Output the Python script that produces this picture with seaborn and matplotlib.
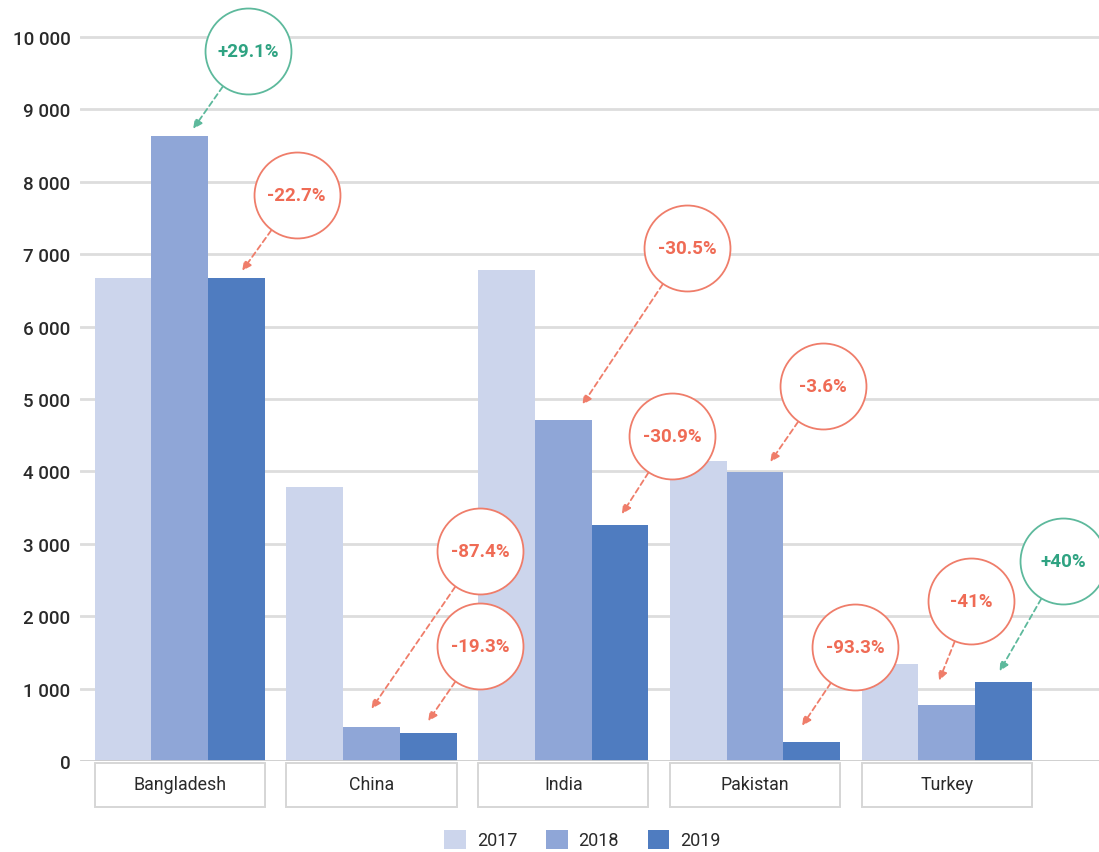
import matplotlib
matplotlib.use('Agg')
import matplotlib.pyplot as plt
import matplotlib.transforms as mtransforms
from matplotlib.patches import Rectangle, Patch
import seaborn as sns
import pandas as pd

# data
countries = ['Bangladesh', 'China', 'India', 'Pakistan', 'Turkey']
years = ['2017', '2018', '2019']
values2017 = [6670, 3780, 6780, 4140, 1340]
values2018 = [8630, 470, 4710, 3990, 780]
values2019 = [6670, 380, 3260, 265, 1090]
yearColors = ['#ccd5ec', '#8fa6d7', '#4f7cc0']

# change labels: (text, country index, year index of target bar)
changeLabels = ['+29.1%', '-22.7%', '-87.4%', '-19.3%', '-30.5%', '-30.9%', '-3.6%', '-93.3%', '-41%', '+40%']
changeCountry = [0, 0, 1, 1, 2, 2, 3, 3, 4, 4]
changeYear = [1, 2, 1, 2, 1, 2, 1, 2, 1, 2]
# circle centres (layout, data coords) and arrow tip offsets
circleX = [0.355, 0.610, 1.565, 1.565, 2.645, 2.567, 3.354, 3.521, 4.126, 4.606]
circleY = [9807, 7818, 2901, 1588, 7086, 4489, 5180, 1575, 2210, 2762]
tipDx = [0.07, 0.03, 0.0, 0.0, 0.10, 0.01, 0.08, -0.05, -0.04, -0.02]
tipDy = [100, 100, 250, 170, 210, 150, 140, 220, 330, 150]

GREEN = '#2fa382'
GREEN_EDGE = '#5db99c'
RED = '#ef6b55'
RED_EDGE = '#ef7d6a'

df = pd.DataFrame({
    'country': countries * 3,
    'year': [y for y in years for _ in countries],
    'value': values2017 + values2018 + values2019,
})

sns.set_theme(style='white')
plt.rcParams['font.family'] = ['Roboto', 'DejaVu Sans']

fig = plt.figure(figsize=(10.99, 8.53), dpi=100)
ax = fig.add_axes([80 / 1099, 1 - 762 / 853, 1 - 80 / 1099, 753 / 853])

barWidth = 0.887
sns.barplot(data=df, x='country', y='value', hue='year', palette=yearColors,
            width=barWidth, saturation=1, gap=0, ax=ax, legend=False, zorder=2,
            linewidth=0, edgecolor='none')

ax.set_ylim(0, 10400)
ax.set_xlim(-0.52, 4.794)
ax.set_yticks(range(0, 10001, 1000))
ax.set_yticklabels([f'{v:,}'.replace(',', ' ') for v in range(0, 10001, 1000)],
                   fontsize=13.5, color='#2a2a2a', fontweight='medium')
ax.tick_params(axis='y', length=0, pad=7)
ax.set_xticks([])
ax.set_xlabel('')
ax.set_ylabel('')
for s in ax.spines.values():
    s.set_visible(False)

for v in range(1000, 10001, 1000):
    ax.axhline(v, color='#dddddd', lw=2, zorder=0)
ax.axhline(0, color='#cccccc', lw=2, zorder=3)

# category boxes under the axis
trans = mtransforms.blended_transform_factory(ax.transData, ax.transAxes)
for i, c in enumerate(countries):
    ax.add_patch(Rectangle((i - barWidth / 2 + 0.004, -0.0611), barWidth, 0.0585, transform=trans,
                           facecolor='#e6e6e6', edgecolor='none', clip_on=False, zorder=1))
    ax.add_patch(Rectangle((i - barWidth / 2, -0.0605), barWidth, 0.0585, transform=trans,
                           facecolor='white', edgecolor='#d6d6d6', lw=1.4, clip_on=False, zorder=2))
    ax.text(i, -0.031, c, transform=trans, ha='center', va='center',
            fontsize=12.8, color='#2a2a2a', zorder=3)

# change annotations, arrow tips taken from the drawn bars
for k, lab in enumerate(changeLabels):
    bar = ax.containers[changeYear[k]][changeCountry[k]]
    tx = bar.get_x() + bar.get_width() / 2 + tipDx[k]
    ty = bar.get_height() + tipDy[k]
    up = lab.startswith('+')
    col = GREEN if up else RED
    edge = GREEN_EDGE if up else RED_EDGE
    ax.annotate('', xy=(tx, ty), xytext=(circleX[k], circleY[k]),
                arrowprops=dict(arrowstyle='-|>,head_length=0.45,head_width=0.22',
                                color=edge, lw=1.3, linestyle=(0, (3, 2)),
                                shrinkA=31.5, shrinkB=0),
                annotation_clip=False, zorder=4)
    ax.scatter([circleX[k]], [circleY[k]], s=3830, facecolor='white', edgecolor=edge,
               linewidth=1.3, zorder=5, clip_on=False)
    ax.text(circleX[k], circleY[k], lab, ha='center', va='center', fontsize=13.5,
            color=col, fontweight='bold', zorder=6)

handles = [Patch(facecolor=yearColors[i], edgecolor='none', label=years[i]) for i in range(3)]
fig.legend(handles=handles, loc='lower center', bbox_to_anchor=(0.53, -0.016), ncol=3,
           frameon=False, fontsize=13, handlelength=1.2, handleheight=1.2,
           columnspacing=1.6, handletextpad=0.6, labelcolor='#2a2a2a')

fig.savefig('out.png', dpi=100)
